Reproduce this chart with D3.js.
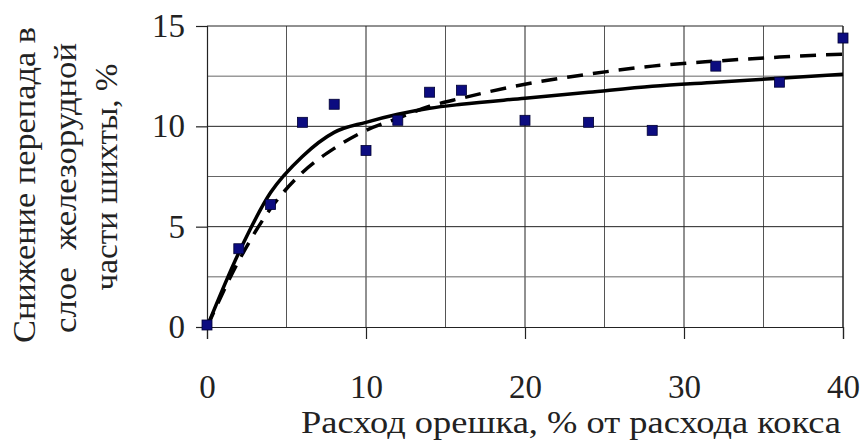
<!DOCTYPE html>
<html>
<head>
<meta charset="utf-8">
<script src="https://cdn.jsdelivr.net/npm/d3@7"></script>
<style>
  body { margin: 0; background: #fff; }
  text { font-family: 'Liberation Serif', 'Times New Roman', serif; fill: #222; }
</style>
</head>
<body>
<script>
var xVals = [0, 2, 4, 6, 8, 10, 12, 14, 16, 20, 24, 28, 32, 36, 40];
var measured = [0.1, 3.9, 6.1, 10.2, 11.1, 8.8, 10.3, 11.7, 11.8, 10.3, 10.2, 9.8, 13.0, 12.2, 14.4];
var solidFit = [0, 3.7, 6.7, 8.5, 9.7, 10.2, 10.6, 10.9, 11.1, 11.4, 11.7, 12.0, 12.2, 12.4, 12.6];
var dashedFit = [0, 3.3, 5.9, 7.7, 8.9, 9.8, 10.4, 11.0, 11.4, 12.1, 12.6, 13.0, 13.25, 13.45, 13.6];
var xTicks = [0, 10, 20, 30, 40];
var yTicks = [0, 5, 10, 15];
var yTitle = ['Снижение перепада в', 'слое  железорудной', 'части шихты, %'];
var xTitle = 'Расход орешка, % от расхода кокса';

var serif = "'Liberation Serif', 'Times New Roman', serif";

var W = 862, H = 442,
    m = {top: 26, right: 19, bottom: 115, left: 207},
    w = W - m.left - m.right,
    h = H - m.top - m.bottom;

var svg = d3.select('body').append('svg')
  .attr('width', W)
  .attr('height', H)
  .attr('font-family', serif);

var g = svg.append('g')
  .attr('transform', 'translate(' + m.left + ',' + m.top + ')');

var x = d3.scaleLinear().domain([0, 40]).range([0, w]);
var y = d3.scaleLinear().domain([0, 15]).range([h, 0]);

// grid
g.selectAll('.vgrid')
  .data(d3.range(5, 40, 5))
  .enter().append('line')
  .attr('x1', function(d) { return x(d); })
  .attr('x2', function(d) { return x(d); })
  .attr('y1', 0).attr('y2', h)
  .attr('stroke', function(d) { return d % 10 === 0 ? '#222' : '#555'; })
  .attr('stroke-width', 1);

g.selectAll('.hgrid')
  .data(d3.range(2.5, 15, 2.5))
  .enter().append('line')
  .attr('x1', 0).attr('x2', w)
  .attr('y1', function(d) { return y(d); })
  .attr('y2', function(d) { return y(d); })
  .attr('stroke', function(d) { return d % 5 === 0 ? '#222' : '#666'; })
  .attr('stroke-width', 1);

// frame top / right
g.append('line').attr('x1', 0).attr('x2', w).attr('y1', 0).attr('y2', 0)
  .attr('stroke', '#222');
g.append('line').attr('x1', w).attr('x2', w).attr('y1', 0).attr('y2', h)
  .attr('stroke', '#222').attr('stroke-width', 1.5);

// axes
var xAxis = d3.axisBottom(x).tickValues(xTicks).tickSize(12).tickPadding(36);
var yAxis = d3.axisLeft(y).tickValues(yTicks).tickSize(11).tickPadding(11);

var gx = g.append('g')
  .attr('transform', 'translate(0,' + h + ')')
  .call(xAxis);
var gy = g.append('g').call(yAxis);

[gx, gy].forEach(function(a) {
  a.attr('font-family', serif).attr('font-size', 33);
  a.select('.domain').attr('stroke', '#222').attr('stroke-width', 1.2);
  a.selectAll('.tick line').attr('stroke', '#222').attr('stroke-width', 1.2);
  a.selectAll('.tick text').attr('fill', '#333');
});

// fitted curves
var line = d3.line()
  .x(function(d) { return x(d[0]); })
  .y(function(d) { return y(d[1]); })
  .curve(d3.curveMonotoneX);

g.append('path')
  .datum(d3.zip(xVals, dashedFit))
  .attr('d', line)
  .attr('fill', 'none')
  .attr('stroke', '#000')
  .attr('stroke-width', 3.5)
  .attr('stroke-dasharray', '16,10');

g.append('path')
  .datum(d3.zip(xVals, solidFit))
  .attr('d', line)
  .attr('fill', 'none')
  .attr('stroke', '#000')
  .attr('stroke-width', 3.5);

// measured points
g.selectAll('.pt')
  .data(d3.zip(xVals, measured))
  .enter().append('rect')
  .attr('x', function(d) { return x(d[0]) - 5; })
  .attr('y', function(d) { return y(d[1]) - 5; })
  .attr('width', 10)
  .attr('height', 10)
  .attr('fill', '#0c0c80')
  .attr('stroke', '#000033')
  .attr('stroke-width', 0.8);

// titles
svg.append('text')
  .attr('x', 301)
  .attr('y', 433)
  .attr('font-size', 32)
  .attr('textLength', 540)
  .attr('lengthAdjust', 'spacingAndGlyphs')
  .text(xTitle);

var yLines = [
  {base: 35, center: 185, len: 316},
  {base: 76, center: 188, len: 290},
  {base: 117, center: 177, len: 227}
];
yTitle.forEach(function(s, i) {
  svg.append('text')
    .attr('transform', 'translate(' + yLines[i].base + ',' + yLines[i].center + ') rotate(-90)')
    .attr('x', -yLines[i].len / 2)
    .attr('font-size', 32)
    .attr('textLength', yLines[i].len)
    .attr('lengthAdjust', 'spacingAndGlyphs')
    .attr('xml:space', 'preserve')
    .style('white-space', 'pre')
    .text(s);
});
</script>
</body>
</html>
